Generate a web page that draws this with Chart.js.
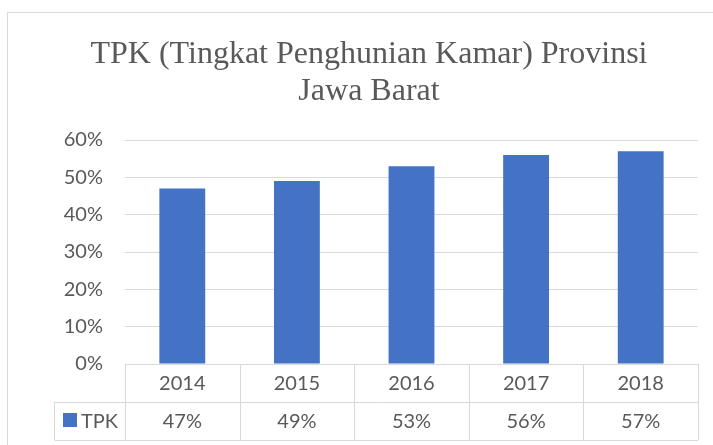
<!DOCTYPE html>
<html>
<head>
<meta charset="utf-8">
<script src="https://cdn.jsdelivr.net/npm/chart.js@4/dist/chart.umd.min.js"></script>
<style>
  html, body { margin: 0; padding: 0; background: #fff; }
  #wrap { width: 713px; height: 445px; }
</style>
</head>
<body>
<div id="wrap"><canvas id="grafica" width="713" height="445"></canvas></div>
<script>
// data
const tahun = ["2014", "2015", "2016", "2017", "2018"];
const tpk = [47, 49, 53, 56, 57];
const namaSeri = "TPK";
const judul = ["TPK (Tingkat Penghunian Kamar) Provinsi", "Jawa Barat"];

const warnaBar = "#4472c4";
const warnaTeks = "#595959";
const warnaGaris = "#d9d9d9";
const fontTeks = "Lato, 'Liberation Sans', sans-serif";

// frame + title + data table under the axis
const tabelPlugin = {
  id: "tabel",
  beforeDraw(chart) {
    const c = chart.ctx;
    c.save();
    c.strokeStyle = warnaGaris;
    c.lineWidth = 1;
    c.strokeRect(7.5, 12.5, 760, 480);
    c.fillStyle = warnaTeks;
    c.font = "32px 'Liberation Serif', 'Times New Roman', serif";
    c.textAlign = "center";
    c.textBaseline = "alphabetic";
    c.fillText(judul[0], 369, 63);
    c.fillText(judul[1], 369, 100);
    c.restore();
  },
  afterDraw(chart) {
    const c = chart.ctx;
    const area = chart.chartArea;
    const x = chart.scales.x;
    const rowH = 38;
    const y0 = area.bottom;
    const y1 = y0 + rowH;
    const y2 = y1 + rowH;
    const kiriLegend = 54.5;
    const step = x.getPixelForValue(1) - x.getPixelForValue(0);

    c.save();
    c.strokeStyle = warnaGaris;
    c.lineWidth = 1;
    c.beginPath();
    // horizontal lines
    c.moveTo(area.left, Math.round(y0) + 0.5); c.lineTo(area.right, Math.round(y0) + 0.5);
    c.moveTo(kiriLegend, Math.round(y1) + 0.5); c.lineTo(area.right, Math.round(y1) + 0.5);
    c.moveTo(kiriLegend, Math.round(y2) + 0.5); c.lineTo(area.right, Math.round(y2) + 0.5);
    // vertical lines
    c.moveTo(kiriLegend, y1); c.lineTo(kiriLegend, y2);
    for (let i = 0; i <= tahun.length; i++) {
      const px = Math.round(x.getPixelForValue(i) - step / 2) + 0.5;
      c.moveTo(px, y0); c.lineTo(px, y2);
    }
    c.stroke();

    c.fillStyle = warnaTeks;
    c.font = "20px " + fontTeks;
    c.textAlign = "center";
    c.textBaseline = "middle";
    tahun.forEach((t, i) => {
      const px = x.getPixelForValue(i);
      c.fillText(t, px, (y0 + y1) / 2 + 1);
      c.fillText(tpk[i] + "%", px, (y1 + y2) / 2 + 1);
    });

    // legend key
    c.fillStyle = warnaBar;
    c.fillRect(63, 413, 14, 14);
    c.fillStyle = warnaTeks;
    c.textAlign = "left";
    c.fillText(namaSeri, 81, (y1 + y2) / 2 + 1);
    c.restore();
  }
};

new Chart(document.getElementById("grafica"), {
  type: "bar",
  data: {
    labels: tahun,
    datasets: [{
      label: namaSeri,
      data: tpk,
      backgroundColor: warnaBar,
      barPercentage: 0.4,
      categoryPercentage: 1
    }]
  },
  options: {
    responsive: false,
    animation: false,
    layout: { padding: { left: 0, right: 15, top: 140, bottom: 81 } },
    plugins: {
      legend: { display: false },
      title: { display: false },
      tooltip: { enabled: false }
    },
    scales: {
      x: { display: false },
      y: {
        min: 0,
        max: 60,
        afterFit(scale) { scale.width = 125; },
        border: { display: false },
        grid: { color: warnaGaris, drawTicks: false },
        ticks: {
          stepSize: 10,
          padding: 22,
          color: warnaTeks,
          font: { family: fontTeks, size: 20 },
          callback: v => v + "%"
        }
      }
    }
  },
  plugins: [tabelPlugin]
});
</script>
</body>
</html>
